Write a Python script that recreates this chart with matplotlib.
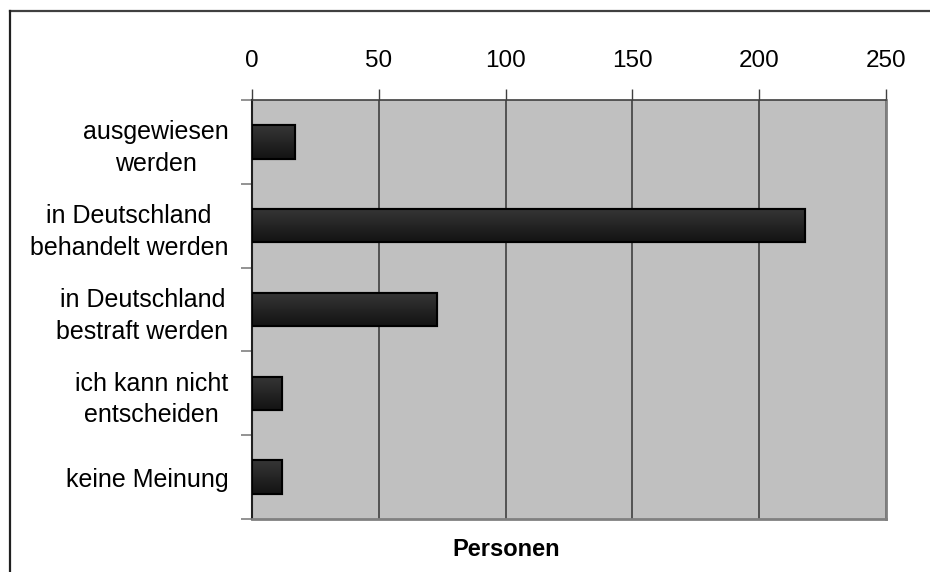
import matplotlib
matplotlib.use("Agg")
import matplotlib.pyplot as plt
import matplotlib.lines as mlines
import numpy as np

plt.rcParams['font.family'] = ['Liberation Sans', 'DejaVu Sans']

# Data
categories = ["ausgewiesen\nwerden",
              "in Deutschland\nbehandelt werden",
              "in Deutschland\nbestraft werden",
              "ich kann nicht\nentscheiden",
              "keine Meinung"]
values = [17, 218, 73, 12, 12]
xticks = [0, 50, 100, 150, 200, 250]

fig = plt.figure(figsize=(9.3, 5.72), dpi=100)
ax = fig.add_axes([252/930, 1-519/572, 634/930, 419/572])
ax.set_facecolor('#c0c0c0')

ypos = np.arange(len(categories))
bars = ax.barh(ypos, values, height=0.4, color='#262626', edgecolor='black',
               linewidth=1.5, zorder=3)

# vertical gradient inside each bar
grad = np.linspace(0, 1, 64).reshape(-1, 1)
cmap = matplotlib.colors.LinearSegmentedColormap.from_list('g', ['#363636', '#131313'])
for b in bars:
    x0, y0 = b.get_x(), b.get_y()
    w, h = b.get_width(), b.get_height()
    im = ax.imshow(grad, cmap=cmap, aspect='auto', extent=[x0, x0 + w, y0 + h, y0],
                   origin='upper', zorder=3.5, interpolation='bilinear')
    im.set_clip_path(b)
    ax.add_patch(plt.Rectangle((x0, y0), w, h, fill=False, edgecolor='black',
                               linewidth=1.5, zorder=4))

ax.set_xlim(0, 250)
ax.set_ylim(len(categories) - 0.5, -0.5)

ax.xaxis.tick_top()
ax.set_xticks(xticks)
ax.set_xticklabels([str(t) for t in xticks], fontsize=17.5)
ax.tick_params(axis='x', direction='out', length=8, width=1, color='#404040', pad=12)
ax.grid(axis='x', color='#404040', linewidth=1.2, zorder=1)

ax.set_yticks(ypos)
ax.set_yticklabels(categories, fontsize=18, ha='right', multialignment='center',
                   linespacing=1.4)
ax.tick_params(axis='y', which='major', length=0, pad=17)
ax.set_yticks(np.arange(-0.5, len(categories)), minor=True)
ax.tick_params(axis='y', which='minor', length=8, width=1.2, color='#808080', direction='out')

ax.spines['left'].set_color('#202020')
ax.spines['left'].set_linewidth(1.5)
ax.spines['top'].set_color('#404040')
ax.spines['top'].set_linewidth(1.2)
for s in ['right', 'bottom']:
    ax.spines[s].set_color('#808080')
    ax.spines[s].set_linewidth(2)

fig.text(506/930, 1-550/572, "Personen", fontsize=17, fontweight='bold',
         ha='center', va='center')

# outer chart frame (cut off at right and bottom)
fig.add_artist(mlines.Line2D([10/930, 1.01], [1-11/572, 1-11/572], color='#404040', linewidth=1.6))
fig.add_artist(mlines.Line2D([10/930, 10/930], [1-11/572, -0.01], color='#202020', linewidth=1.6))

fig.savefig("out.png", dpi=100)
